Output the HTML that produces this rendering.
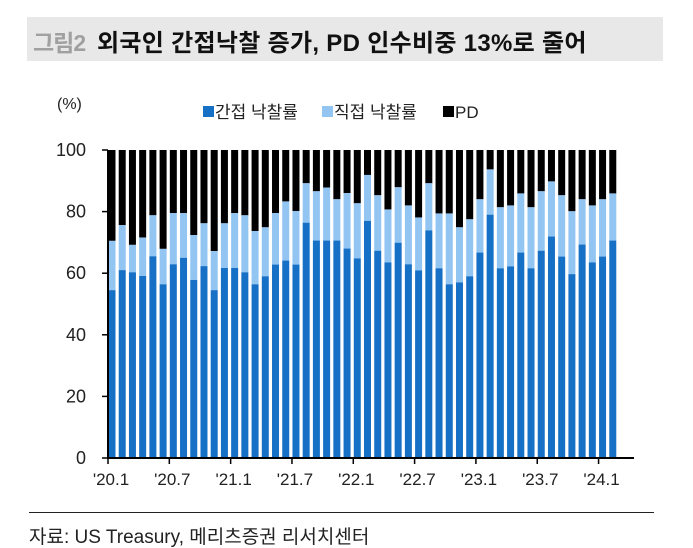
<!DOCTYPE html>
<html><head><meta charset="utf-8"><style>
body{margin:0;background:#fff;}
#wrap{position:relative;width:693px;height:548px;overflow:hidden;font-family:"Liberation Sans","Noto Sans CJK KR",sans-serif;}
</style></head><body>
<div id="wrap">
<div style="position:absolute;left:27px;top:17px;width:636px;height:44px;background:#e8e8e8;"></div>
<div style="position:absolute;left:33px;top:24px;font-size:23px;font-weight:bold;color:#a0a0a0;letter-spacing:-1px;">그림2</div>
<div style="position:absolute;left:97px;top:23px;font-size:24px;font-weight:bold;color:#111;letter-spacing:0.3px;">외국인 간접낙찰 증가, PD 인수비중 13%로 줄어</div>
<svg id="chart" width="693" height="548" style="position:absolute;left:0;top:0"></svg>
<div style="position:absolute;left:29px;top:512px;width:625px;height:1px;background:#222;"></div>
<div style="position:absolute;left:29px;top:522px;font-size:19px;color:#222;letter-spacing:0px;">자료: US Treasury, 메리츠증권 리서치센터</div>
</div>
<script>
const indirect=[54.5,61,60.3,59.1,65.5,56.4,62.9,65,57.8,62.3,54.5,61.7,61.7,60.3,56.4,59,62.8,64.1,62.8,76.4,70.6,70.6,70.6,68,64.8,77,67.3,63.5,69.9,62.9,60.9,73.9,61.6,56.4,57,59,66.7,79,61.6,62.2,66.7,61.6,67.3,71.9,65.4,59.7,69.3,63.5,65.4,70.6];
const total=[70.5,75.6,69.2,71.6,78.8,67.9,79.5,79.5,72.4,76.2,67.2,76.2,79.5,78.8,73.7,74.9,79.5,83.3,80.2,89.2,86.6,87.8,84,86,82.7,91.9,85.3,80.7,87.9,82,78.1,89.2,79.4,79.4,74.9,77.5,84,93.7,81.4,82,85.9,81.4,86.6,89.8,85.3,80.1,84,82,84,85.9];
const yTicks=[0,20,40,60,80,100];
const xLabels=["'20.1","'20.7","'21.1","'21.7","'22.1","'22.7","'23.1","'23.7","'24.1"];
const svg=document.getElementById('chart');const NS='http://www.w3.org/2000/svg';
const y0=458,y100=150;
const ys=v=>y0-(y0-y100)*v/100;
const x0=112,step=10.22;
const xs=i=>x0+i*step;
function mk(t,a,p){const e=document.createElementNS(NS,t);for(const k in a)e.setAttribute(k,a[k]);(p||svg).appendChild(e);return e;}
for(let i=0;i<indirect.length;i++){
 const cx=xs(i);
 let r=mk('rect',{x:cx-3.5,y:ys(100),width:7,height:ys(total[i])-ys(100),fill:'#000'});
 
 
 r=mk('rect',{x:cx-3.5,y:ys(total[i]),width:7,height:ys(indirect[i])-ys(total[i]),fill:'#92c5f2'});
 
 
 r=mk('rect',{x:cx-3.5,y:ys(indirect[i]),width:7,height:y0-ys(indirect[i]),fill:'#1670c6'});
 
 
}
let ax=mk('line',{x1:108,y1:y100,x2:108,y2:y0,stroke:'#000','stroke-width':2});


ax=mk('line',{x1:107,y1:y0,x2:634,y2:y0,stroke:'#000','stroke-width':2});


yTicks.forEach(v=>{
 const t=mk('line',{x1:102,y1:ys(v),x2:108,y2:ys(v),stroke:'#000','stroke-width':1.5});
 
 
 const l=mk('text',{x:86,y:ys(v)+6,'text-anchor':'end','font-size':18,fill:'#222'});
 l.textContent=v;
 
 
});
xLabels.forEach((s,k)=>{
 const x=xs(k*6)-4;
 const t=mk('line',{x1:x,y1:y0,x2:x,y2:y0+6,stroke:'#000','stroke-width':1.5});
 
 
 const l=mk('text',{x:x+3,y:485,'text-anchor':'middle','font-size':17,fill:'#222'});
 l.textContent=s;
 
 
});
let u=mk('text',{x:57,y:109,'font-size':16,fill:'#222'});u.textContent='(%)';


const leg=[['간접 낙찰률','#1670c6',203],['직접 낙찰률','#92c5f2',322],['PD','#000',443]];
leg.forEach(([n,c,x])=>{
 const g=mk('g',{});
 
 
 mk('rect',{x:x,y:106,width:11,height:11,fill:c},g);
 const t=mk('text',{x:x+12,y:118,'font-size':17,fill:'#222'},g);t.textContent=n;
});
</script>
</body></html>
